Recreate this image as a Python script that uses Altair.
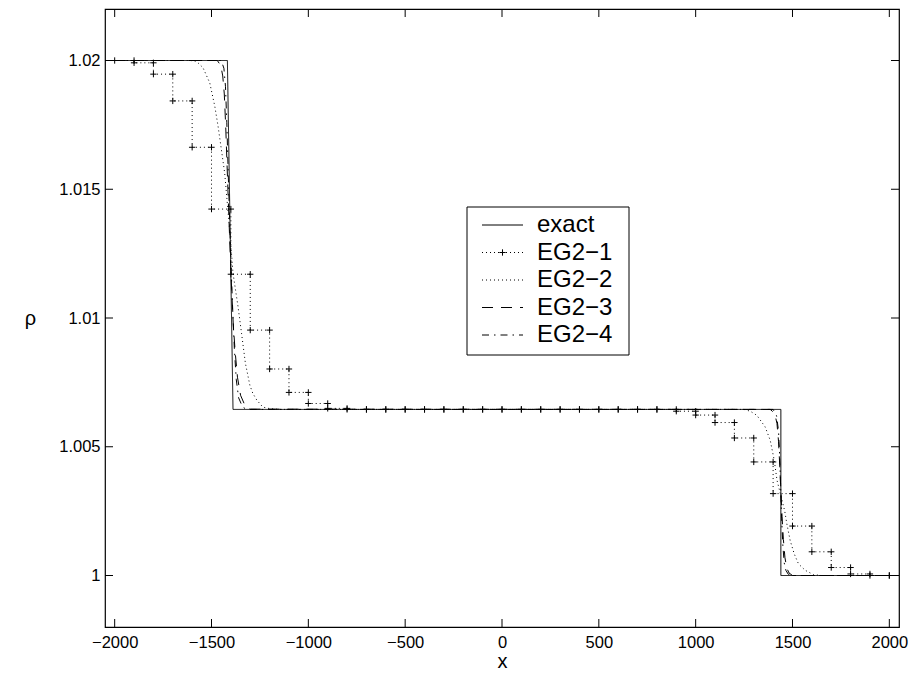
import altair as alt
import pandas as pd

FONT = "Liberation Sans"
W, H = 794, 618

# ---------------- data ----------------
x_domain = [-2050, 2050]
y_domain = [0.998, 1.022]
x_ticks = [-2000, -1500, -1000, -500, 0, 500, 1000, 1500, 2000]
y_ticks = [1.0, 1.005, 1.01, 1.015, 1.02]

series_names = ["exact", "EG2−1", "EG2−2", "EG2−3", "EG2−4"]

exact_x = [-2000, -1418, -1389, 1440, 1440, 2000]
exact_rho = [1.02, 1.02, 1.00645, 1.00645, 1.0, 1.0]

# EG2-1: stair values on the grid x = -2000, -1900, ..., 2000
eg1_x = [-2000, -1900, -1800, -1700, -1600, -1500, -1400, -1300, -1200, -1100,
         -1000, -900, -800, -700, -600, -500, -400, -300, -200, -100,
         0, 100, 200, 300, 400, 500, 600, 700, 800, 900,
         1000, 1100, 1200, 1300, 1400, 1500, 1600, 1700, 1800, 1900, 2000]
eg1_rho = [1.02, 1.01991, 1.01947, 1.01843, 1.01663, 1.01423, 1.0117, 1.00953, 1.00802, 1.00711,
           1.00668, 1.00649, 1.00645, 1.00645, 1.00645, 1.00645, 1.00645, 1.00645, 1.00645, 1.00645,
           1.00645, 1.00645, 1.00645, 1.00645, 1.00645, 1.00645, 1.00645, 1.00645, 1.00645, 1.00638,
           1.00623, 1.00594, 1.00534, 1.00441, 1.00318, 1.00192, 1.00092, 1.00031, 1.00006, 1.0, 1.0]

eg2_x = [-2000, -1610, -1578, -1544, -1509, -1483, -1466, -1449, -1432, -1423,
         -1405, -1389, -1363, -1345, -1325, -1302, -1287, -1266, -1235, -1199,
         -1150, 1250, 1282, 1316, 1359, 1385, 1406, 1420, 1440, 1460,
         1471, 1488, 1509, 1531, 1566, 1609, 1650, 2000]
eg2_rho = [1.02, 1.02, 1.01997, 1.01972, 1.01913, 1.01822, 1.01744, 1.01654, 1.01563, 1.01485,
           1.0133, 1.01174, 1.01044, 1.00941, 1.00824, 1.00739, 1.00708, 1.00681, 1.00654, 1.00648,
           1.00645, 1.00645, 1.00638, 1.00622, 1.00577, 1.00525, 1.00447, 1.0037, 1.0031, 1.0025,
           1.0020, 1.00136, 1.00084, 1.00045, 1.0002, 1.00003, 1.0, 1.0]

eg3_x = [-2000, -1470, -1452, -1442, -1434, -1427, -1420, -1412, -1404, -1396,
         -1388, -1378, -1366, -1350, -1330, -1300, 1385, 1408, 1420, 1428,
         1434, 1440, 1446, 1453, 1461, 1470, 1482, 1500, 2000]
eg3_rho = [1.02, 1.02, 1.0198, 1.0194, 1.0187, 1.0175, 1.0160, 1.0143, 1.0126, 1.0111,
           1.0098, 1.0087, 1.0077, 1.0070, 1.00665, 1.00646, 1.00645, 1.0063, 1.0059, 1.0052,
           1.0043, 1.0033, 1.0023, 1.0014, 1.0007, 1.0003, 1.0001, 1.0, 1.0]

eg4_x = [-2000, -1450, -1436, -1428, -1421, -1414, -1406, -1398, -1390, -1382,
         -1372, -1360, -1340, -1320, 1400, 1418, 1428, 1434, 1439, 1444,
         1450, 1457, 1466, 1478, 1495, 2000]
eg4_rho = [1.02, 1.02, 1.0197, 1.0190, 1.0176, 1.0157, 1.0137, 1.0118, 1.0102, 1.0088,
           1.0076, 1.0069, 1.00655, 1.00645, 1.00645, 1.0062, 1.0056, 1.0046, 1.0034, 1.0022,
           1.0012, 1.0005, 1.0002, 1.00005, 1.0, 1.0]

# ---------------- build tables ----------------
stair_x, stair_y = [], []
for k in range(len(eg1_x) - 1):
    stair_x += [eg1_x[k], eg1_x[k + 1]]
    stair_y += [eg1_rho[k], eg1_rho[k]]
stair_x.append(eg1_x[-1])
stair_y.append(eg1_rho[-1])

rows = []
for name, xs_, ys_ in [("exact", exact_x, exact_rho), ("EG2−1", stair_x, stair_y),
                       ("EG2−2", eg2_x, eg2_rho), ("EG2−3", eg3_x, eg3_rho),
                       ("EG2−4", eg4_x, eg4_rho)]:
    for i, (a, b) in enumerate(zip(xs_, ys_)):
        rows.append({"series": name, "x": a, "rho": b, "i": i})
df = pd.DataFrame(rows)
df_pts = df[df["series"] == "EG2−1"]

dash_styles = [[1, 0], [1, 3], [1, 3], [11, 8], [7, 5, 1.5, 5]]

xs = alt.Scale(domain=x_domain, nice=False, zero=False)
ys = alt.Scale(domain=y_domain, nice=False, zero=False)
dash_scale = alt.Scale(domain=series_names, range=dash_styles)

x_axis = alt.Axis(values=x_ticks, format="d", ticks=False, domain=False, grid=False,
                  labelPadding=7, labelFontSize=16.5, labelFont=FONT, labelColor="black",
                  title="x", titleFontSize=20, titleFont=FONT, titleFontWeight="normal",
                  titleColor="black", titlePadding=1)
y_axis = alt.Axis(values=y_ticks, format="~g", ticks=False, domain=False, grid=False,
                  labelPadding=5, labelFontSize=16.5, labelFont=FONT, labelColor="black",
                  title="ρ", titleFontSize=20, titleFont=FONT, titleFontWeight="normal",
                  titleColor="black", titleAngle=0, titleX=-75, titleY=309,
                  titleAlign="center", titleBaseline="middle")

X = alt.X("x:Q", scale=xs, axis=x_axis, title="x")
Y = alt.Y("rho:Q", scale=ys, axis=y_axis, title="ρ")

lines = alt.Chart(df).mark_line(strokeWidth=1, clip=True).encode(
    x=X, y=Y,
    strokeDash=alt.StrokeDash("series:N", scale=dash_scale, legend=None),
    color=alt.value("black"),
    detail="series:N",
    order="i:Q",
)

pts = alt.Chart(df_pts).mark_point(shape="M-1,0H1M0,-1V1", size=40, filled=False,
                                   strokeWidth=1, opacity=1).encode(
    x=X, y=Y, color=alt.value("black"))

yt = pd.DataFrame({"rho": y_ticks})
xt = pd.DataFrame({"x": x_ticks})
tick_l = alt.Chart(yt).mark_rule(strokeWidth=1, color="black").encode(
    y=Y, x=alt.value(0), x2=alt.value(8))
tick_r = alt.Chart(yt).mark_rule(strokeWidth=1, color="black").encode(
    y=Y, x=alt.value(W - 8), x2=alt.value(W))
tick_b = alt.Chart(xt).mark_rule(strokeWidth=1, color="black").encode(
    x=X, y=alt.value(H), y2=alt.value(H - 8))
tick_t = alt.Chart(xt).mark_rule(strokeWidth=1, color="black").encode(
    x=X, y=alt.value(0), y2=alt.value(8))

main = alt.layer(lines, pts, tick_l, tick_r, tick_b, tick_t)

# ---------------- legend ----------------
leg = pd.DataFrame({"series": series_names})
leg_y = alt.Y("series:N", scale=alt.Scale(type="point", domain=series_names,
                                          range=[216, 326], padding=0), axis=None)
box = alt.Chart(pd.DataFrame({"a": [0]})).mark_rect(fill="white", stroke="black",
                                                     strokeWidth=1).encode(
    x=alt.value(362), x2=alt.value(524), y=alt.value(198), y2=alt.value(346))
leg_lines = alt.Chart(leg).mark_rule(strokeWidth=1, color="black").encode(
    x=alt.value(377), x2=alt.value(418), y=leg_y,
    strokeDash=alt.StrokeDash("series:N", scale=dash_scale, legend=None))
leg_pt = alt.Chart(leg[leg["series"] == "EG2−1"]).mark_point(
    shape="M-1,0H1M0,-1V1", size=40, filled=False, strokeWidth=1, opacity=1).encode(
    x=alt.value(397.5), y=leg_y, color=alt.value("black"))
leg_text = alt.Chart(leg).mark_text(align="left", baseline="middle", fontSize=24,
                                    font=FONT, color="black").encode(
    x=alt.value(432), y=leg_y, text="series:N")

legend = alt.layer(box, leg_lines, leg_pt, leg_text)

chart = alt.layer(main, legend).resolve_scale(y="independent").properties(
    width=W, height=H, autosize="none",
    padding={"left": 105, "top": 9, "right": 14, "bottom": 53},
    background="white",
).configure_view(stroke="black", strokeWidth=1.2)

chart.save("out.html", embed_options={"renderer": "svg", "actions": False})
